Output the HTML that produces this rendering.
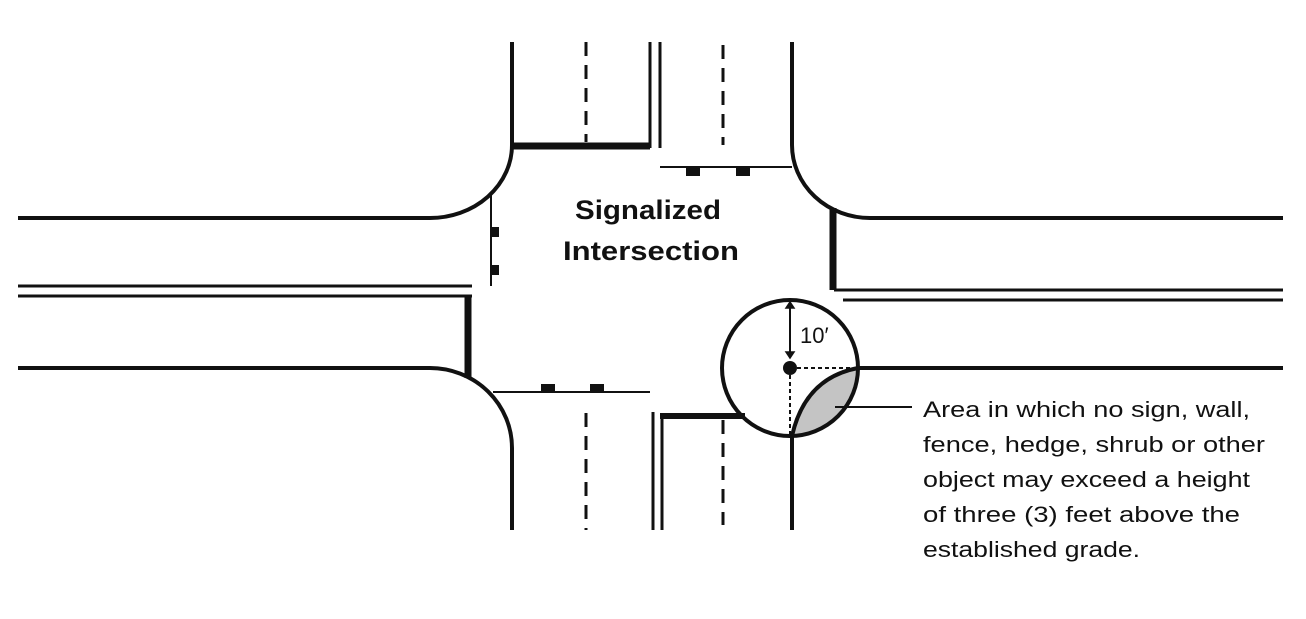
<!DOCTYPE html>
<html><head><style>
html,body{margin:0;padding:0;background:#fff;}
svg{display:block;}
text{font-family:"Liberation Sans",sans-serif;fill:#111;}
</style></head><body>
<svg width="1306" height="619" viewBox="0 0 1306 619" xmlns="http://www.w3.org/2000/svg">
<rect width="1306" height="619" fill="#fff"/>
<g stroke="#111" fill="none" stroke-width="4">
  <path d="M18 218 H430 A82 73 0 0 0 512 145 V42"/>
  <line x1="18" y1="286" x2="472" y2="286" stroke-width="3"/>
  <line x1="18" y1="296" x2="472" y2="296" stroke-width="3"/>
  <path d="M18 368 H430 A82 80 0 0 1 512 448 V530"/>
  <path d="M792 42 V145 A78 73 0 0 0 870 218 H1283"/>
  <line x1="834" y1="290" x2="1283" y2="290" stroke-width="3"/>
  <line x1="843" y1="300" x2="1283" y2="300" stroke-width="3"/>
  <line x1="858" y1="368" x2="1283" y2="368"/>
  <line x1="650" y1="42" x2="650" y2="148" stroke-width="3"/>
  <line x1="660" y1="42" x2="660" y2="148" stroke-width="3"/>
  <line x1="653" y1="412" x2="653" y2="530" stroke-width="3"/>
  <line x1="662" y1="416" x2="662" y2="530" stroke-width="3"/>
  <line x1="792" y1="436" x2="792" y2="530" stroke-width="4"/>
  <line x1="512" y1="146" x2="650" y2="146" stroke-width="7"/>
  <line x1="468" y1="296" x2="468" y2="378" stroke-width="7"/>
  <line x1="833" y1="208" x2="833" y2="290" stroke-width="7"/>
  <line x1="660" y1="416" x2="745" y2="416" stroke-width="6"/>
  <line x1="660" y1="167" x2="792" y2="167" stroke-width="2"/>
  <line x1="491" y1="192" x2="491" y2="286" stroke-width="2"/>
  <line x1="493" y1="392" x2="650" y2="392" stroke-width="2"/>
  <g stroke-width="3" stroke-dasharray="14 9">
    <line x1="586" y1="42" x2="586" y2="142"/>
    <line x1="723" y1="45" x2="723" y2="145"/>
    <line x1="586" y1="413" x2="586" y2="530"/>
    <line x1="723" y1="420" x2="723" y2="525"/>
  </g>
</g>
<g fill="#111">
  <rect x="686" y="168" width="14" height="8"/>
  <rect x="736" y="168" width="14" height="8"/>
  <rect x="491" y="227" width="8" height="10"/>
  <rect x="491" y="265" width="8" height="10"/>
  <rect x="541" y="384" width="14" height="8"/>
  <rect x="590" y="384" width="14" height="8"/>
</g>
<path d="M792 436 Q805 378 858 368 A68 68 0 0 1 792 436 Z" fill="#c4c4c4" stroke="none"/>
<circle cx="790" cy="368" r="68" fill="none" stroke="#111" stroke-width="4"/>
<path d="M792 436 Q805 378 858 368" fill="none" stroke="#111" stroke-width="4"/>
<g stroke="#111" stroke-width="2" stroke-dasharray="4 3">
  <line x1="790" y1="368" x2="858" y2="368"/>
  <line x1="790" y1="368" x2="790" y2="436"/>
</g>
<circle cx="790" cy="368" r="7" fill="#111"/>
<line x1="790" y1="306" x2="790" y2="354" stroke="#111" stroke-width="2"/>
<path d="M786 308 L790 302 L794 308 Z M786 352 L790 358 L794 352 Z" fill="#111" stroke="#111" stroke-width="1.5"/>
<text x="800" y="343" font-size="22">10′</text>
<line x1="835" y1="407" x2="912" y2="407" stroke="#111" stroke-width="2"/>
<text x="648" y="219" font-size="27" font-weight="bold" text-anchor="middle" textLength="146" lengthAdjust="spacingAndGlyphs">Signalized</text>
<text x="651" y="260" font-size="27" font-weight="bold" text-anchor="middle" textLength="176" lengthAdjust="spacingAndGlyphs">Intersection</text>
<g font-size="22">
<text x="923" y="417" textLength="327" lengthAdjust="spacingAndGlyphs">Area in which no sign, wall,</text>
<text x="923" y="452" textLength="342" lengthAdjust="spacingAndGlyphs">fence, hedge, shrub or other</text>
<text x="923" y="487" textLength="327" lengthAdjust="spacingAndGlyphs">object may exceed a height</text>
<text x="923" y="522" textLength="317" lengthAdjust="spacingAndGlyphs">of three (3) feet above the</text>
<text x="923" y="557" textLength="217" lengthAdjust="spacingAndGlyphs">established grade.</text>
</g>
</svg>
</body></html>
